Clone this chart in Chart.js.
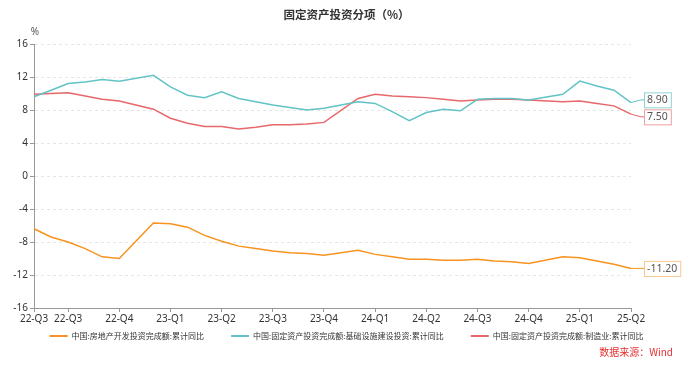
<!DOCTYPE html>
<html>
<head>
<meta charset="utf-8">
<script src="https://cdn.jsdelivr.net/npm/chart.js@4.4.1/dist/chart.umd.min.js"></script>
<style>
  html, body { margin: 0; padding: 0; background: #fff; }
  #wrap { width: 693px; height: 366px; }
</style>
</head>
<body>
<div id="wrap"><canvas id="chart"></canvas></div>
<script>
// monthly, Jan is merged into Jan-Feb so it stays empty
const months = [
  '2022-07','2022-08','2022-09','2022-10','2022-11','2022-12',
  '2023-01','2023-02','2023-03','2023-04','2023-05','2023-06','2023-07','2023-08','2023-09','2023-10','2023-11','2023-12',
  '2024-01','2024-02','2024-03','2024-04','2024-05','2024-06','2024-07','2024-08','2024-09','2024-10','2024-11','2024-12',
  '2025-01','2025-02','2025-03','2025-04','2025-05','2025-06'
];
const realEstate = [
  -6.4, -7.4, -8.0, -8.8, -9.8, -10.0,
  null, -5.7, -5.8, -6.2, -7.2, -7.9, -8.5, -8.8, -9.1, -9.3, -9.4, -9.6,
  null, -9.0, -9.5, -9.8, -10.1, -10.1, -10.2, -10.2, -10.1, -10.3, -10.4, -10.6,
  null, -9.8, -9.9, -10.3, -10.7, -11.2
];
const infra = [
  9.6, 10.4, 11.2, 11.4, 11.7, 11.5,
  null, 12.2, 10.8, 9.8, 9.5, 10.2, 9.4, 9.0, 8.6, 8.3, 8.0, 8.2,
  null, 9.0, 8.8, 7.8, 6.7, 7.7, 8.1, 7.9, 9.3, 9.4, 9.4, 9.2,
  null, 9.9, 11.5, 10.9, 10.4, 8.9
];
const manufacturing = [
  9.9, 10.0, 10.1, 9.7, 9.3, 9.1,
  null, 8.1, 7.0, 6.4, 6.0, 6.0, 5.7, 5.9, 6.2, 6.2, 6.3, 6.5,
  null, 9.4, 9.9, 9.7, 9.6, 9.5, 9.3, 9.1, 9.2, 9.3, 9.3, 9.2,
  null, 9.0, 9.1, 8.8, 8.5, 7.5
];
const seriesNames = [
  '中国:房地产开发投资完成额:累计同比',
  '中国:固定资产投资完成额:基础设施建设投资:累计同比',
  '中国:固定资产投资完成额:制造业:累计同比'
];
const colors = ['#F7931E', '#62C3C6', '#E8676A'];
const boxColors = ['#F9C78F', '#8FD3D5', '#F0A0A2'];
const yTicks = [-16, -12, -8, -4, 0, 4, 8, 12, 16];
const titleText = '固定资产投资分项（%）';
const sourceText = '数据来源：Wind';

function quarterLabel(m) {
  let [y, mm] = m.split('-');
  return y.slice(2) + '-Q' + Math.ceil(Number(mm) / 3);
}

const extras = {
  id: 'extras',
  afterDraw(chart) {
    const ctx = chart.ctx;
    const area = chart.chartArea;
    const W = chart.width;
    ctx.save();

    // title
    ctx.font = 'bold 11.5px "Noto Sans CJK SC", sans-serif';
    ctx.fillStyle = '#333';
    ctx.textAlign = 'center';
    ctx.textBaseline = 'middle';
    ctx.fillText(titleText, W / 2, 15);

    // unit
    ctx.font = '10px "Noto Sans", sans-serif';
    ctx.fillStyle = '#555';
    ctx.fillText('%', area.left + 1, area.top - 12);

    // end labels with leader lines
    let items = chart.data.datasets.map((ds, i) => {
      let meta = chart.getDatasetMeta(i);
      let pt = meta.data[meta.data.length - 1];
      return { i: i, x: pt.x, y: pt.y, ly: pt.y, text: ds.data[ds.data.length - 1].toFixed(2) };
    });
    items.sort((a, b) => a.y - b.y);
    for (let k = 1; k < items.length; k++) {
      if (items[k].ly - items[k - 1].ly < 17) {
        let mid = (items[k].ly + items[k - 1].ly) / 2;
        items[k - 1].ly = mid - 8.5;
        items[k].ly = mid + 8.5;
      }
    }
    ctx.font = '10.5px "Noto Sans", sans-serif';
    ctx.textAlign = 'left';
    items.forEach(it => {
      let bx = it.x + 13;
      let w = ctx.measureText(it.text).width + 6;
      ctx.strokeStyle = colors[it.i];
      ctx.lineWidth = 1;
      ctx.beginPath();
      ctx.moveTo(it.x, it.y);
      ctx.lineTo(bx - 3, it.ly);
      ctx.lineTo(bx, it.ly);
      ctx.stroke();
      ctx.fillStyle = '#fff';
      ctx.fillRect(bx, it.ly - 7.5, w, 15);
      ctx.strokeStyle = boxColors[it.i];
      ctx.strokeRect(bx + 0.5, it.ly - 7, w, 15);
      ctx.fillStyle = '#555';
      ctx.fillText(it.text, bx + 3, it.ly + 0.5);
    });

    // legend, one row centred on the canvas
    ctx.font = '8px "Noto Sans CJK SC", sans-serif';
    let widths = seriesNames.map(n => 18 + 4 + ctx.measureText(n).width);
    let gap = 27;
    let total = widths.reduce((a, b) => a + b, 0) + gap * (widths.length - 1);
    let lx = (W - total) / 2;
    let ly = 336;
    seriesNames.forEach((n, i) => {
      ctx.fillStyle = colors[i];
      ctx.fillRect(lx, ly - 1, 18, 2);
      ctx.fillStyle = '#333';
      ctx.fillText(n, lx + 22, ly);
      lx += widths[i] + gap;
    });

    // source
    ctx.font = '10px "Noto Sans CJK SC", sans-serif';
    ctx.fillStyle = '#E53030';
    ctx.textAlign = 'right';
    ctx.fillText(sourceText, 673, 352);
    ctx.restore();
  }
};

new Chart(document.getElementById('chart'), {
  type: 'line',
  data: {
    labels: months,
    datasets: [realEstate, infra, manufacturing].map((d, i) => ({
      label: seriesNames[i],
      data: d,
      borderColor: colors[i],
      backgroundColor: colors[i],
      borderWidth: 1.5,
      pointRadius: 0,
      tension: 0,
      spanGaps: true
    }))
  },
  options: {
    responsive: true,
    maintainAspectRatio: false,
    animation: false,
    layout: { padding: { left: 4, right: 62, top: 44, bottom: 40 } },
    plugins: {
      title: { display: false },
      legend: { display: false },
      tooltip: { enabled: false }
    },
    scales: {
      x: {
        offset: false,
        grid: { drawOnChartArea: false, drawTicks: true, tickLength: 4, color: '#999' },
        border: { color: '#999' },
        ticks: {
          autoSkip: false,
          maxRotation: 0,
          padding: 1,
          color: '#333',
          font: { size: 10, family: '"Noto Sans", sans-serif' },
          callback: function (v, idx) {
            let m = months[idx];
            if (idx === 0 || Number(m.split('-')[1]) % 3 === 0) return quarterLabel(m);
            return null;
          }
        }
      },
      y: {
        min: -16,
        max: 16,
        afterBuildTicks: s => { s.ticks = yTicks.map(v => ({ value: v })); },
        afterFit: s => { s.width = 30; },
        grid: { color: '#e6e6e6', tickColor: '#999', tickLength: 4, tickBorderDash: [] },
        border: { color: '#999', dash: [3, 3] },
        ticks: {
          color: '#333',
          padding: 2,
          font: { size: 10, family: '"Noto Sans", sans-serif' }
        }
      }
    }
  },
  plugins: [extras]
});
</script>
</body>
</html>
